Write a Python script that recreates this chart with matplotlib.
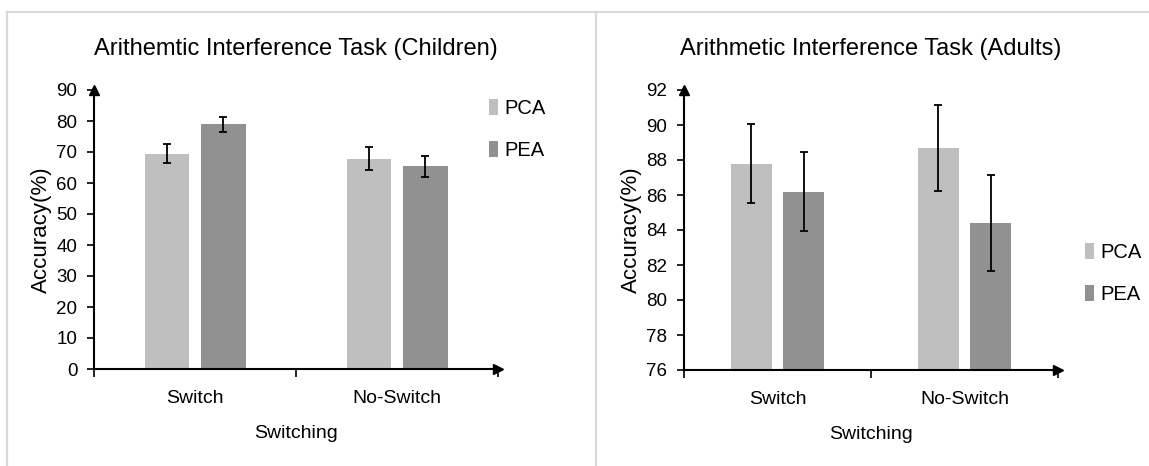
import matplotlib
matplotlib.use("Agg")
import matplotlib.pyplot as plt
from matplotlib.lines import Line2D
import numpy as np

# values
categories = ["Switch", "No-Switch"]
groups = ["PCA", "PEA"]

child_pca = [69.5, 67.9]
child_pca_err = [3.1, 3.6]
child_pea = [78.9, 65.4]
child_pea_err = [2.3, 3.4]

adult_pca = [87.8, 88.7]
adult_pca_err = [2.25, 2.45]
adult_pea = [86.2, 84.4]
adult_pea_err = [2.27, 2.77]

W, H = 1149, 466
PCA_COLOR = "#bfbfbf"
PEA_COLOR = "#919191"
FONT = ["Liberation Sans", "DejaVu Sans"]

plt.rcParams["font.family"] = FONT


def px(x0, y0, x1, y1):
    """pixel box (left, top, right, bottom) -> figure fraction rect"""
    return [x0 / W, 1 - y1 / H, (x1 - x0) / W, (y1 - y0) / H]


def panel(ax, pca, pca_err, pea, pea_err, ylim, yticks, title):
    x = np.arange(len(categories))
    off, bw = 0.14, 0.22
    ekw = dict(ecolor="black", elinewidth=1.3, capsize=3, capthick=1.3)
    ax.bar(x - off, pca, bw, color=PCA_COLOR, yerr=pca_err, error_kw=ekw,
           label=groups[0], zorder=2)
    ax.bar(x + off, pea, bw, color=PEA_COLOR, yerr=pea_err, error_kw=ekw,
           label=groups[1], zorder=2)
    ax.set_xlim(-0.5, len(categories) - 0.5)
    ax.set_ylim(*ylim)
    ax.set_yticks(yticks)
    ax.set_xticks(x)
    ax.set_xticklabels(categories)
    ax.set_xticks(np.arange(len(categories) + 1) - 0.5, minor=True)
    ax.tick_params(axis="x", which="major", length=0, pad=15, labelsize=14)
    ax.tick_params(axis="x", which="minor", length=6, width=1.2, direction="out")
    ax.tick_params(axis="y", length=5, width=1.2, pad=7, labelsize=13.5)
    for s in ("top", "right"):
        ax.spines[s].set_visible(False)
    for s in ("left", "bottom"):
        ax.spines[s].set_linewidth(1.5)
    ax.plot([0], [1], marker="^", ms=7, color="black", transform=ax.transAxes,
            clip_on=False)
    ax.plot([1], [0], marker=">", ms=7, color="black", transform=ax.transAxes,
            clip_on=False)
    ax.set_xlabel("Switching", fontsize=14, labelpad=13)
    ax.set_ylabel("Accuracy(%)", fontsize=16, labelpad=3)
    ax.set_title(title, fontsize=17, pad=25)


fig = plt.figure(figsize=(W / 100, H / 100), dpi=100)

legend_kw = dict(bbox_transform=fig.transFigure, frameon=False, fontsize=14.5,
                 handlelength=0.45, handleheight=0.8, handletextpad=0.3,
                 labelspacing=1.15, borderpad=0, borderaxespad=0,
                 loc="upper left")

ax1 = fig.add_axes(px(94, 90, 498, 369))
panel(ax1, child_pca, child_pca_err, child_pea, child_pea_err,
      (0, 90), np.arange(0, 91, 10), "Arithemtic Interference Task (Children)")
ax1.legend(bbox_to_anchor=(489 / W, 1 - 99 / H), **legend_kw)

ax2 = fig.add_axes(px(684, 90, 1058, 370))
panel(ax2, adult_pca, adult_pca_err, adult_pea, adult_pea_err,
      (76, 92), np.arange(76, 93, 2), "Arithmetic Interference Task (Adults)")
ax2.legend(bbox_to_anchor=(1085 / W, 1 - 243 / H), **legend_kw)

# light gray panel borders
border = dict(color="#d9d9d9", linewidth=1.6, transform=fig.transFigure)
fig.add_artist(Line2D([7 / W, 1], [1 - 12 / H] * 2, **border))
fig.add_artist(Line2D([7 / W] * 2, [0, 1 - 12 / H], **border))
fig.add_artist(Line2D([596 / W] * 2, [0, 1 - 12 / H], **border))

fig.savefig("out.png", dpi=100)
